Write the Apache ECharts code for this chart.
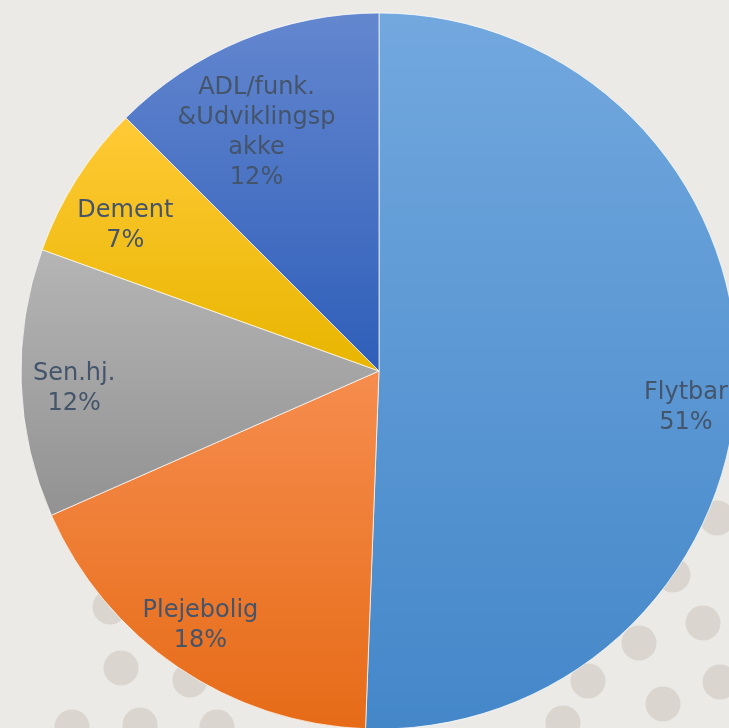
<!doctype html>
<html>
<head>
<meta charset="utf-8">
<title>Pie</title>
<style>
  html, body { margin: 0; padding: 0; background: #ebeae6; }
  #main { width: 729px; height: 728px; }
</style>
</head>
<body>
<div id="main"></div>
<script src="https://cdn.jsdelivr.net/npm/echarts@6/dist/echarts.min.js"></script>
<script>
// categories and values (share in %)
var categories = ['Flytbar', 'Plejebolig', 'Sen.hj.', 'Dement', 'ADL/funk. &Udviklingspakke'];
var values = [50.6, 17.8, 12.1, 7.0, 12.5];
// how the names wrap inside the slices
var labelTexts = ['Flytbar', 'Plejebolig', 'Sen.hj.', 'Dement', 'ADL/funk.\n&Udviklingsp\nakke'];

var gradients = [
    ['#72a8de', '#4487c9'],
    ['#f68d4e', '#e66b17'],
    ['#b5b5b5', '#929292'],
    ['#ffca36', '#e8b500'],
    ['#6487cf', '#2e5eb9']
];
// height of an empty line above each label, pushes it towards the centre
var labelSpacer = [62, 2, 14, 38, 90];
// sideways nudge of each label [right pad, left pad]
var labelSide = [[0, 0], [12, 0], [0, 4], [0, 11], [10, 0]];

var dots = [
    [717, 518], [673, 575], [703, 623], [639, 643], [588, 681], [663, 704],
    [720, 682], [563, 723], [110, 607], [121, 668], [190, 680], [72, 727],
    [140, 725], [217, 727]
];

var chart = echarts.init(document.getElementById('main'), null, { devicePixelRatio: 1 });

var pieData = categories.map(function (name, i) {
    return {
        name: name,
        value: values[i],
        itemStyle: {
            color: new echarts.graphic.LinearGradient(0, 0, 0, 1, [
                { offset: 0, color: gradients[i][0] },
                { offset: 1, color: gradients[i][1] }
            ])
        }
    };
});

var labelData = categories.map(function (name, i) {
    return { name: name, value: values[i] };
});

var rich = {};
labelSpacer.forEach(function (h, i) {
    rich['s' + i] = { lineHeight: h, fontSize: 1, height: h };
    rich['t' + i] = { padding: [0, labelSide[i][0], 0, labelSide[i][1]] };
});

chart.setOption({
    backgroundColor: '#ebeae6',
    animation: false,
    graphic: dots.map(function (d) {
        return {
            type: 'circle',
            z: 0,
            silent: true,
            shape: { cx: d[0], cy: d[1], r: 17.5 },
            style: { fill: '#dad6cf' }
        };
    }),
    series: [{
        type: 'pie',
        center: [379, 371],
        radius: 358,
        startAngle: 90,
        silent: true,
        label: { show: false },
        labelLine: { show: false },
        itemStyle: { borderColor: 'rgba(255,255,255,0.7)', borderWidth: 1 },
        data: pieData
    }, {
        type: 'pie',
        center: [379, 371],
        radius: [250, 358],
        startAngle: 90,
        silent: true,
        percentPrecision: 0,
        itemStyle: { color: 'rgba(0,0,0,0)' },
        labelLine: { show: false },
        label: {
            show: true,
            position: 'inside',
            fontFamily: 'DejaVu Sans',
            fontSize: 24,
            lineHeight: 30,
            color: '#44546a',
            formatter: function (p) {
                var i = p.dataIndex;
                var lines = (labelTexts[i] + '\n' + p.percent + '%').split('\n');
                return '{s' + i + '| }\n' + lines.map(function (l) {
                    return '{t' + i + '|' + l + '}';
                }).join('\n');
            },
            rich: rich
        },
        data: labelData
    }]
});

window.onresize = chart.resize;
</script>
</body>
</html>
